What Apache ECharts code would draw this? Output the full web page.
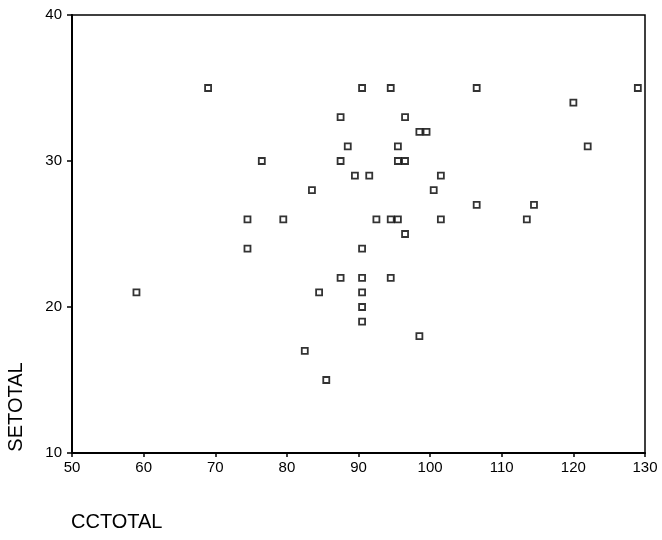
<!DOCTYPE html>
<html>
<head>
<meta charset="utf-8">
<script src="https://cdn.jsdelivr.net/npm/echarts@6/dist/echarts.min.js"></script>
<style>
  html, body { margin: 0; padding: 0; background: #fff; }
  #chart { width: 662px; height: 540px; }
</style>
</head>
<body>
<div id="chart"></div>
<script>
const xTicks = [50, 60, 70, 80, 90, 100, 110, 120, 130];
const yTicks = [10, 20, 30, 40];
const ccTotal = [59, 69, 74.5, 74.5, 76.5, 79.5, 82.5, 83.5, 84.5, 85.5,
  87.5, 87.5, 87.5, 88.5, 89.5, 90.5, 90.5, 90.5, 90.5, 90.5,
  90.5, 91.5, 92.5, 94.5, 94.5, 95.5, 94.5, 95.5, 95.5, 96.5,
  96.5, 96.5, 98.5, 99.5, 98.5, 100.5, 101.5, 101.5, 106.5, 106.5,
  113.5, 114.5, 120, 122, 129];
const seTotal = [21, 35, 26, 24, 30, 26, 17, 28, 21, 15,
  33, 30, 22, 31, 29, 35, 24, 22, 21, 20,
  19, 29, 26, 35, 26, 26, 22, 31, 30, 30,
  33, 25, 32, 32, 18, 28, 29, 26, 35, 27,
  26, 27, 34, 31, 35];

const chart = echarts.init(document.getElementById("chart"));
const font = "Arial, 'Liberation Sans', sans-serif";

chart.setOption({
  animation: false,
  backgroundColor: "#fff",
  grid: { left: 72, right: 17, top: 15, bottom: 87, show: true, borderColor: "#000", borderWidth: 1.5 },
  xAxis: {
    type: "value",
    min: xTicks[0],
    max: xTicks[xTicks.length - 1],
    interval: 10,
    axisLine: { show: true, onZero: false, lineStyle: { color: "#000", width: 2 } },
    axisTick: { show: true, length: 4, lineStyle: { color: "#000", width: 1.5 } },
    axisLabel: { color: "#000", fontSize: 15, fontFamily: font, margin: 7 },
    splitLine: { show: false }
  },
  yAxis: {
    type: "value",
    min: yTicks[0],
    max: yTicks[yTicks.length - 1],
    interval: 10,
    axisLine: { show: true, onZero: false, lineStyle: { color: "#000", width: 2 } },
    axisTick: { show: true, length: 5, lineStyle: { color: "#000", width: 1.5 } },
    axisLabel: { color: "#000", fontSize: 15, fontFamily: font, margin: 10 },
    splitLine: { show: false }
  },
  graphic: [
    {
      type: "text",
      x: 16,
      y: 407,
      rotation: Math.PI / 2,
      style: { text: "SETOTAL", fill: "#000", font: "20px " + font, align: "center", verticalAlign: "middle" }
    },
    {
      type: "text",
      x: 71,
      y: 522,
      style: { text: "CCTOTAL", fill: "#000", font: "20px " + font, align: "left", verticalAlign: "middle" }
    }
  ],
  series: [
    {
      type: "scatter",
      symbol: "rect",
      symbolSize: 6,
      data: ccTotal.map((x, i) => [x, seTotal[i]]),
      itemStyle: { color: "#fff", borderColor: "#000", borderWidth: 1.8 }
    }
  ]
});
</script>
</body>
</html>
